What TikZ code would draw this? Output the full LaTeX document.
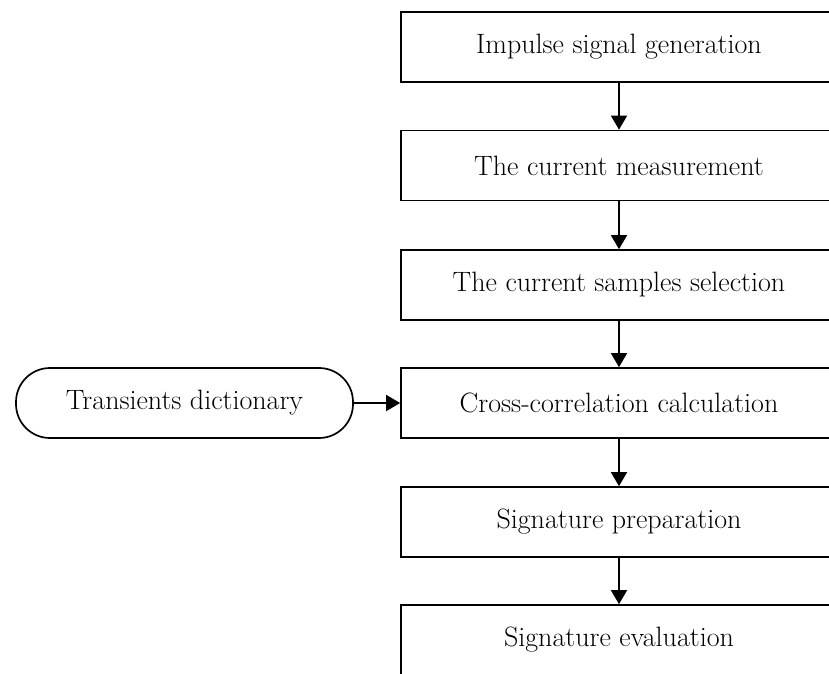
\documentclass[tikz,border=0pt]{standalone}
\usetikzlibrary{arrows.meta}
\begin{document}
\begin{tikzpicture}[x=1pt,y=-1pt,
  stepbox/.style={draw,line width=1.7pt,minimum width=436pt,minimum height=70pt,inner sep=0pt,font=\fontsize{28}{32}\selectfont},
  dictbox/.style={draw,line width=1.7pt,minimum width=337pt,minimum height=70pt,inner sep=0pt,rounded corners=34pt,font=\fontsize{28}{32}\selectfont},
  arr/.style={line width=1.7pt,-{Triangle[width=16pt,length=14pt]}}]
\useasboundingbox (0,0) rectangle (829,673);
\begin{scope}
\clip (0,0) rectangle (829,673);
\node[stepbox] (b1) at (619,47) {Impulse signal generation};
\node[stepbox] (b2) at (619,165.5) {The current measurement};
\node[stepbox] (b3) at (619,285) {The current samples selection};
\node[stepbox] (b4) at (619,403) {Cross-correlation calculation};
\node[stepbox] (b5) at (619,522) {Signature preparation};
\node[stepbox] (b6) at (619,640) {Signature evaluation};
\node[dictbox] (d) at (184.5,403) {Transients dictionary};
\draw[arr] (b1) -- (b2);
\draw[arr] (b2) -- (b3);
\draw[arr] (b3) -- (b4);
\draw[arr] (b4) -- (b5);
\draw[arr] (b5) -- (b6);
\draw[arr] (d) -- (b4);
\end{scope}
\end{tikzpicture}
\end{document}
